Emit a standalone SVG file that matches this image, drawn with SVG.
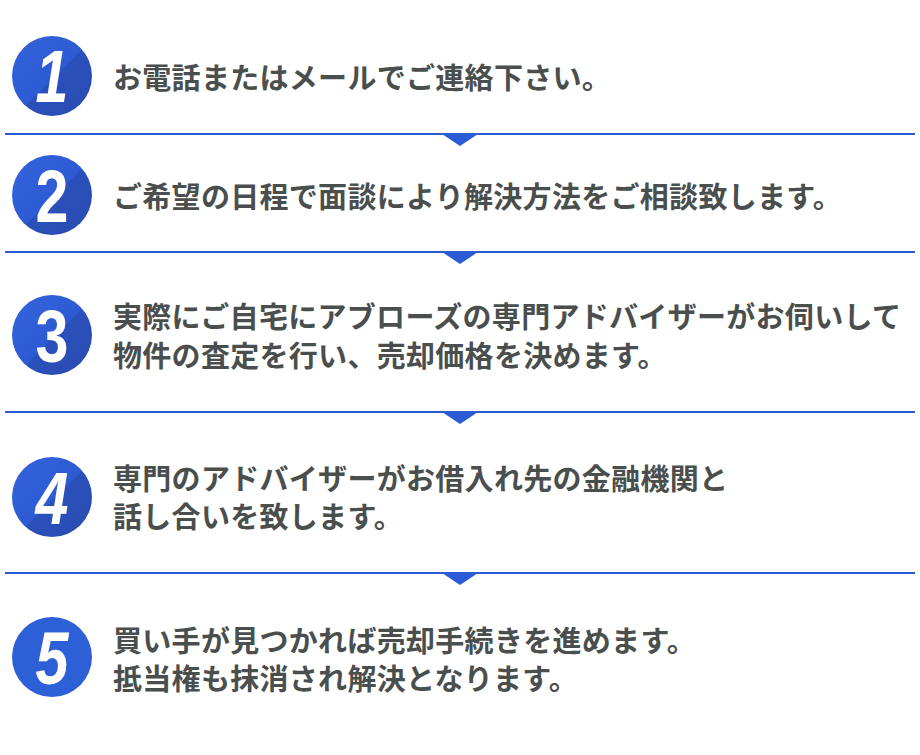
<svg xmlns="http://www.w3.org/2000/svg" width="920" height="755" viewBox="0 0 920 755">
<defs>
<linearGradient id="cg" x1="0" y1="0" x2="1" y2="1">
<stop offset="0" stop-color="#3463dc"/>
<stop offset="0.52" stop-color="#2d5bd4"/>
<stop offset="0.52" stop-color="#2a50bb"/>
<stop offset="1" stop-color="#2a4cb0"/>
</linearGradient>
<style>
.c{fill:url(#cg)}
.c5{fill:#2d5fd6}
.n{fill:#fff;font-family:"Liberation Sans",Arial,sans-serif;font-weight:700;font-size:74px;text-anchor:middle}
.i{font-style:italic}
.t{fill:#4a4f4e;font-family:"Noto Sans CJK JP","Noto Sans",sans-serif;font-weight:700;font-size:29px;letter-spacing:0.3px;dominant-baseline:central}
.ln{stroke:#2c5bd6;stroke-width:2}
.tr{fill:#2c5bd6}
</style>
</defs>
<rect width="920" height="755" fill="#fff"/>
<g id="connectors">
<line class="ln" x1="5" y1="134" x2="915" y2="134"/>
<polygon class="tr" points="442,134 478,134 460,146"/>
<line class="ln" x1="5" y1="252" x2="915" y2="252"/>
<polygon class="tr" points="442,252 478,252 460,264"/>
<line class="ln" x1="5" y1="412" x2="915" y2="412"/>
<polygon class="tr" points="442,412 478,412 460,424"/>
<line class="ln" x1="5" y1="573" x2="915" y2="573"/>
<polygon class="tr" points="442,573 478,573 460,585"/>
</g>
<g id="step1">
<circle class="c" cx="52" cy="76" r="40"/>
<text class="n i" transform="translate(52,102) scale(0.8,1)">1</text>
<text class="t" x="113" y="76">お電話またはメールでご連絡下さい。</text>
</g>
<g id="step2">
<circle class="c" cx="52" cy="195" r="40"/>
<text class="n" transform="translate(52,222) scale(0.8,1)">2</text>
<text class="t" x="113" y="195">ご希望の日程で面談により解決方法をご相談致します。</text>
</g>
<g id="step3">
<circle class="c" cx="52" cy="335" r="40"/>
<text class="n" transform="translate(52,362) scale(0.8,1)">3</text>
<text class="t" x="113" y="315">実際にご自宅にアブローズの専門アドバイザーがお伺いして</text>
<text class="t" x="113" y="354">物件の査定を行い、売却価格を決めます。</text>
</g>
<g id="step4">
<circle class="c" cx="52" cy="497" r="40"/>
<text class="n i" transform="translate(52,524) scale(0.8,1)">4</text>
<text class="t" x="113" y="477">専門のアドバイザーがお借入れ先の金融機関と</text>
<text class="t" x="113" y="515">話し合いを致します。</text>
</g>
<g id="step5">
<circle class="c5" cx="52" cy="657" r="40"/>
<text class="n i" transform="translate(52,684) scale(0.8,1)">5</text>
<text class="t" x="113" y="639">買い手が見つかれば売却手続きを進めます。</text>
<text class="t" x="113" y="677">抵当権も抹消され解決となります。</text>
</g>
</svg>
